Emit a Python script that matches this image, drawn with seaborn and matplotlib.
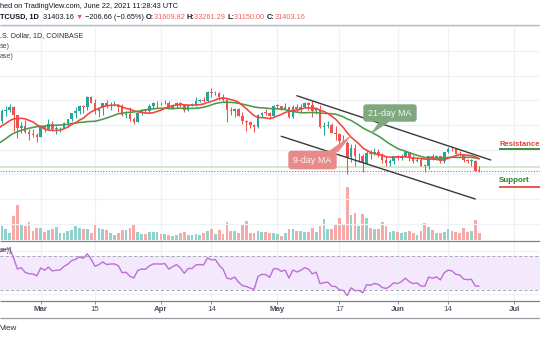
import matplotlib
matplotlib.use("Agg")
import matplotlib.pyplot as plt
import numpy as np
import pandas as pd
import seaborn as sns
from matplotlib.patches import FancyBboxPatch, Polygon

sns.set_theme(style="white")
plt.rcParams['font.family'] = ['Liberation Sans', 'DejaVu Sans']

# ---------------- data (BTC/USD daily, Coinbase) ----------------
first_day = "2021-01-20"
# closes before the visible window (needed for the moving averages / RSI)
warmup_close = [35500, 30850, 33000, 32100, 32300, 32250, 32500, 30400, 33400, 34250,
                34300, 33100, 33500, 35500, 37650, 36950, 38300, 39250, 38850, 46450,
                46500, 44850, 48000, 47450, 47200, 48600, 47950, 49150, 52150, 51600]

# (open, high, low, close)
feb_ohlc = [(51600, 56370, 50750, 55900), (55900, 57560, 53860, 55920), (55920, 58350, 55480, 57490),
            (57490, 57560, 47600, 54090), (54090, 54200, 44900, 48890), (48890, 51370, 47000, 49700),
            (49700, 52000, 46700, 47090), (47090, 48400, 44100, 46340), (46340, 48380, 45100, 46190),
            (46190, 46700, 43000, 45140)]
mar_ohlc = [(45140, 49790, 45000, 49590), (49590, 50200, 47050, 48440), (48440, 52640, 48100, 50350),
            (50350, 51800, 47500, 48370), (48370, 49450, 46300, 48760), (48760, 49200, 47070, 48880),
            (48880, 51450, 48880, 50970), (50970, 52400, 49300, 52380), (52380, 54900, 51850, 54880),
            (54880, 57380, 53000, 55860), (55860, 58000, 54300, 57800), (57800, 58000, 55100, 57230),
            (57230, 61780, 56100, 61190), (61190, 61600, 58950, 59000), (59000, 60600, 54650, 55640),
            (55640, 56950, 53300, 56900), (56900, 58960, 54150, 58910), (58910, 60100, 57100, 57650),
            (57650, 59450, 56300, 58040), (58040, 59900, 57900, 58100), (58100, 58600, 55500, 57350),
            (57350, 58420, 53700, 54100), (54100, 55850, 53000, 54340), (54340, 57200, 51700, 52300),
            (52300, 53250, 50300, 51300), (51300, 55100, 51300, 55050), (55050, 56600, 53950, 55850),
            (55850, 56600, 54700, 55800), (55800, 58400, 54900, 57620), (57620, 59400, 57030, 58770),
            (58770, 59800, 56900, 58800)]
apr_ohlc = [(58800, 59500, 57950, 58750), (58750, 60050, 58500, 59000), (59000, 59800, 56900, 57100),
            (57100, 58500, 56500, 58200), (58200, 59300, 56800, 59150), (59150, 59500, 57400, 58050),
            (58050, 58700, 55500, 56000), (56000, 58200, 55700, 58100), (58100, 58900, 57650, 58100),
            (58100, 61250, 57850, 59800), (59800, 60700, 59300, 59950), (59950, 61200, 59400, 59850),
            (59850, 63800, 59850, 63600), (63600, 64900, 61300, 62950), (62950, 63800, 62050, 63200),
            (63200, 63550, 60000, 61400), (61400, 62550, 59600, 60050), (60050, 61000, 51200, 56200),
            (56200, 57500, 54200, 55700), (55700, 57100, 53300, 56500), (56500, 56800, 53650, 53800),
            (53800, 55500, 50400, 51700), (51700, 52100, 47500, 51150), (51150, 51200, 48700, 50100),
            (50100, 50550, 47050, 49100), (49100, 54400, 48800, 54050), (54050, 55500, 53350, 55050),
            (55050, 56450, 53900, 54900), (54900, 55200, 52350, 53550), (53550, 57950, 53100, 57700)]
may_ohlc = [(57700, 58450, 57000, 57800), (57800, 57900, 56050, 56600), (56600, 58950, 56450, 57200),
            (57200, 57200, 53050, 53250), (53250, 57950, 52900, 57500), (57500, 58350, 55250, 56400),
            (56400, 58650, 55400, 57350), (57350, 59500, 56950, 58900), (58900, 59250, 56250, 58250),
            (58250, 59600, 53450, 55850), (55850, 56900, 54400, 56700), (56700, 58000, 48700, 49150),
            (49150, 51400, 46000, 49700), (49700, 51500, 48900, 49900), (49900, 50700, 46700, 46750),
            (46750, 49800, 43850, 46450), (46450, 46650, 42100, 43550), (43550, 45800, 42300, 42900),
            (42900, 43550, 30050, 37000), (37000, 42500, 35000, 40600), (40600, 42200, 33500, 37300),
            (37300, 38850, 35250, 37500), (37500, 38250, 31100, 34700), (34700, 39900, 34400, 38800),
            (38800, 39800, 36450, 38350), (38350, 40800, 37800, 39250), (39250, 40400, 37200, 38500),
            (38500, 38900, 34700, 35700), (35700, 37300, 33400, 34650), (34650, 36450, 33500, 35650),
            (35650, 37500, 34200, 37300)]
jun_ohlc = [(37300, 37900, 35700, 36700), (36700, 38200, 35950, 37600), (37600, 39500, 37200, 39200),
            (39200, 39250, 35600, 36850), (36850, 37900, 34800, 35520), (35520, 36500, 35250, 35800),
            (35800, 36800, 33350, 33580), (33580, 34050, 31000, 33400), (33400, 37550, 32400, 37390),
            (37390, 38400, 35800, 36680), (36680, 37700, 35950, 37330), (37330, 37450, 34600, 35550),
            (35550, 39300, 34800, 39020), (39020, 41000, 38750, 40520), (40520, 41300, 39500, 40150),
            (40150, 40500, 38150, 38350), (38350, 39550, 37400, 38090), (38090, 38200, 35150, 35830),
            (35830, 36450, 34850, 35480), (35480, 36150, 33350, 35600), (35600, 35750, 31300, 31610),
            (31610, 33261, 31150, 31403)]

# volume (thousand BTC, relative)
vol_feb = [14, 11, 7, 24, 35, 15, 14, 18, 9, 12]
vol_mar = [12, 8, 10, 11, 13, 7, 7, 9, 10, 14, 12, 11, 11, 7, 16, 12, 11, 10, 7, 5, 7, 10, 10, 12,
           15, 8, 6, 6, 8, 8, 8]
vol_apr = [6, 6, 5, 3.5, 4.5, 7, 8, 4.5, 4.5, 6, 4.5, 7, 9, 11, 6, 10, 6, 18, 9, 9, 7, 16, 19, 7,
           7, 9, 8, 8, 7, 7]
vol_may = [6, 4, 7, 11, 11, 9, 9, 8, 8, 12, 8, 14, 21, 11, 11, 16, 22, 15, 53, 25, 27, 14, 26, 22,
           12, 11, 11, 18, 14, 8, 9]
vol_jun = [8, 7, 8, 9, 7, 4.5, 9, 17, 13, 10, 7, 7, 8, 11, 9, 8, 7, 12, 8, 9, 20, 7]

# chart annotations (date, price)
channel_upper = [("2021-05-06", 61900), ("2021-06-25", 35870)]
channel_lower = [("2021-05-02", 45470), ("2021-06-21", 20080)]
hline_green = 33150
last_price = 31403.16

tick_dates = ["2021-03-01", "2021-03-15", "2021-04-01", "2021-04-14", "2021-05-01",
              "2021-05-17", "2021-06-01", "2021-06-14", "2021-07-01"]
tick_labels = ["Mar", "15", "Apr", "14", "May", "17", "Jun", "14", "Jul"]
tick_bold = [True, False, True, False, True, False, True, False, True]

# ---------------- frame building ----------------
ohlc = feb_ohlc + mar_ohlc + apr_ohlc + may_ohlc + jun_ohlc
vis = pd.DataFrame(ohlc, columns=["open", "high", "low", "close"])
vis["volume"] = vol_feb + vol_mar + vol_apr + vol_may + vol_jun
all_close = np.array(warmup_close + list(vis["close"]), dtype=float)
dates = pd.date_range(first_day, periods=len(all_close), freq="D")
origin = pd.Timestamp("2021-03-01")
day = np.asarray((dates - origin).days, dtype=float)

full = pd.DataFrame({"day": day, "close": all_close})
full["ma9"] = full["close"].rolling(9).mean()
full["ma21"] = full["close"].rolling(21).mean()


def rsi_tv(c, n=14):
    d = np.diff(c)
    up, dn = np.maximum(d, 0), np.maximum(-d, 0)
    out = np.full(len(c), np.nan)
    au, ad = up[:n].mean(), dn[:n].mean()
    out[n] = 100 - 100 / (1 + au / ad)
    for i in range(n + 1, len(c)):
        au = (au * (n - 1) + up[i - 1]) / n
        ad = (ad * (n - 1) + dn[i - 1]) / n
        out[i] = 100 - 100 / (1 + au / ad)
    return out


full["rsi"] = rsi_tv(all_close)
nw = len(warmup_close)
vis["day"] = day[nw:]
shown = full.iloc[nw - 2:].copy()

UP, DN = "#26a69a", "#ef5350"
UPV, DNV = "#92d2cc", "#f7a9a7"
GRID = "#eef1f6"

W, H = 540, 340
fig = plt.figure(figsize=(W / 100, H / 100), dpi=100)
fig.patch.set_facecolor("white")


def axes_px(x0, y0, x1, y1):
    return fig.add_axes([x0 / W, 1 - y1 / H, (x1 - x0) / W, (y1 - y0) / H])


px_per_day = 3.88
x0_day = -40.7 / px_per_day
x1_day = (540 - 40.7) / px_per_day
tick_days = [(pd.Timestamp(t) - origin).days for t in tick_dates]

# ---- volume (behind) ----
axv = axes_px(0, 25, 540, 240)
vcols = [UPV if c >= o else DNV for o, c in zip(vis["open"], vis["close"])]
axv.bar(vis["day"], vis["volume"], width=0.72, color=vcols, linewidth=0)
axv.set_xlim(x0_day, x1_day)
axv.set_ylim(0, 53 * 215 / 53.3)
for t in tick_days:
    axv.axvline(t, color=GRID, lw=0.9, zorder=0)
axv.axis("off")
axv.set_facecolor("white")

# ---- main price pane ----
ax = axes_px(0, 25, 540, 240)
ax.patch.set_visible(False)
ax.set_xlim(x0_day, x1_day)
ax.set_ylim(3480, 90530)
for p in range(10000, 100000, 10000):
    ax.axhline(p, color=GRID, lw=0.9, zorder=0)

ax.axhline(hline_green, color="#c3e3c3", lw=1.1, zorder=1)
ax.axhline(last_price, color=DN, lw=0.8, ls=(0, (1, 1.5)), zorder=1)

ccols = [UP if c >= o else DN for o, c in zip(vis["open"], vis["close"])]
ax.vlines(vis["day"], vis["low"], vis["high"], colors=ccols, lw=0.75, zorder=2)
body_lo = np.minimum(vis["open"], vis["close"])
body_h = np.maximum(np.abs(vis["close"] - vis["open"]), 250)
ax.bar(vis["day"], body_h, bottom=body_lo, width=0.66, color=ccols, linewidth=0, zorder=3)

sns.lineplot(data=shown, x="day", y="ma21", ax=ax, color="#4a9a4a", lw=1.15, zorder=4)
sns.lineplot(data=shown, x="day", y="ma9", ax=ax, color="#f2453b", lw=1.15, zorder=5)


def dday(s):
    return (pd.Timestamp(s) - origin).days


for seg in (channel_upper, channel_lower):
    ax.plot([dday(seg[0][0]), dday(seg[1][0])], [seg[0][1], seg[1][1]],
            color="#3a3a3a", lw=1.0, zorder=6, solid_capstyle="round")
ax.axis("off")

# ---- RSI pane ----
axr = axes_px(0, 240, 540, 301)
axr.set_xlim(x0_day, x1_day)
axr.set_ylim(17.2, 88.3)
axr.axhspan(30, 70, color="#f3e8fc", lw=0, zorder=0)
for t in tick_days:
    axr.axvline(t, color=GRID, lw=0.9, zorder=0.5)
for lv in (75, 25):
    axr.axhline(lv, color=GRID, lw=0.9, zorder=0.5)
for lv in (70, 30):
    axr.axhline(lv, color="#a3a6ae", lw=0.7, ls=(0, (3, 2.5)), zorder=1)
sns.lineplot(data=full.iloc[nw - 1:], x="day", y="rsi", ax=axr, color="#bc6fd8", lw=1.0, zorder=3)
axr.axis("off")

# ---- time axis ----
axt = axes_px(0, 301, 540, 318)
axt.set_xlim(x0_day, x1_day)
axt.set_ylim(318, 301)
for t, lab, b in zip(tick_days, tick_labels, tick_bold):
    axt.vlines(t, 301, 303.5, color="#8a8d96", lw=0.7)
    axt.text(t, 309.8, lab, ha="center", va="center", fontsize=5.7,
             fontweight="bold" if b else "normal", color="#4a4e59")
axt.axis("off")

# ---- overlay in pixel coordinates ----
ov = fig.add_axes([0, 0, 1, 1])
ov.set_xlim(0, W)
ov.set_ylim(H, 0)
ov.axis("off")
ov.patch.set_visible(False)

ov.hlines(25, 0, W, color="#b9bcc4", lw=1.0)
ov.hlines(240.5, 0, W, color="#7d808a", lw=0.9)
ov.hlines(301, 0, W, color="#7d808a", lw=0.9)
ov.hlines(318, 0, W, color="#9a9da6", lw=0.9)

DARK = "#131722"
ov.text(0, 7, "hed on TradingView.com, June 22, 2021 11:28:43 UTC", fontsize=5.3,
        color=DARK, va="center", ha="left")

renderer = fig.canvas.get_renderer()


def seq(x, y, parts, size):
    for txt, col, bold in parts:
        t = ov.text(x, y, txt, fontsize=size, color=col, va="center", ha="left",
                    fontweight="bold" if bold else "normal")
        x += t.get_window_extent(renderer).width
    return x


RED = "#f0625f"
seq(0, 17.5, [("TCUSD, 1D  ", DARK, True), ("31403.16 ", DARK, False), ("▼", DN, False),
              (" −206.66 (−0.65%) ", DARK, False),
              ("O:", DARK, True), ("31609.82 ", RED, False),
              ("H:", DARK, True), ("33261.29 ", RED, False),
              ("L:", DARK, True), ("31150.00 ", RED, False),
              ("C:", DARK, True), ("31403.16", RED, False)], 5.3)

ov.text(0, 35.7, ".S. Dollar, 1D, COINBASE", fontsize=5.1, color="#2a2e39", va="center", ha="left")
ov.text(0, 46, "se)", fontsize=5.1, color="#4a4e59", va="center", ha="left")
ov.text(0, 56.5, "ase)", fontsize=5.1, color="#4a4e59", va="center", ha="left")
ov.text(0, 251, "se)]", fontsize=5.1, color="#4a4e59", va="center", ha="left")
ov.text(0, 329, "View", fontsize=5.8, color="#2a2e39", va="center", ha="left")

# MA callouts
g_col, r_col = "#7fa87f", "#e98a8a"
ov.add_patch(Polygon([(380, 121.5), (389, 121.5), (372, 132.8)], closed=True,
                     facecolor=g_col, edgecolor=g_col, lw=0.6, zorder=5))
ov.add_patch(FancyBboxPatch((363.3, 104.3), 53.4, 17.4, boxstyle="round,pad=0,rounding_size=3",
                            facecolor=g_col, edgecolor="none", zorder=6))
ov.text(390, 113.2, "21-day MA", fontsize=6.4, color="#f4f7f4", ha="center", va="center", zorder=7)

ov.add_patch(Polygon([(329, 151.5), (338, 151.5), (350, 136.5)], closed=True,
                     facecolor=r_col, edgecolor=r_col, lw=0.6, zorder=5))
ov.add_patch(FancyBboxPatch((288.3, 150.7), 48.4, 18.6, boxstyle="round,pad=0,rounding_size=3",
                            facecolor=r_col, edgecolor="none", zorder=6))
ov.text(312.5, 160.2, "9-day MA", fontsize=6.4, color="#fbf2f2", ha="center", va="center", zorder=7)

# Resistance / Support labels
ov.text(499.3, 144.3, "Resistance", fontsize=5.5, fontweight="bold", color="#e0403c",
        ha="left", va="center")
ov.hlines(149.3, 499.3, W, color="#3d8f3d", lw=1.4)
ov.text(499.3, 180.8, "Support", fontsize=5.8, fontweight="bold", color="#2b7a2e",
        ha="left", va="center")
ov.hlines(186.7, 499.3, W, color="#ef5350", lw=1.4)

fig.savefig("out.png", dpi=100)
